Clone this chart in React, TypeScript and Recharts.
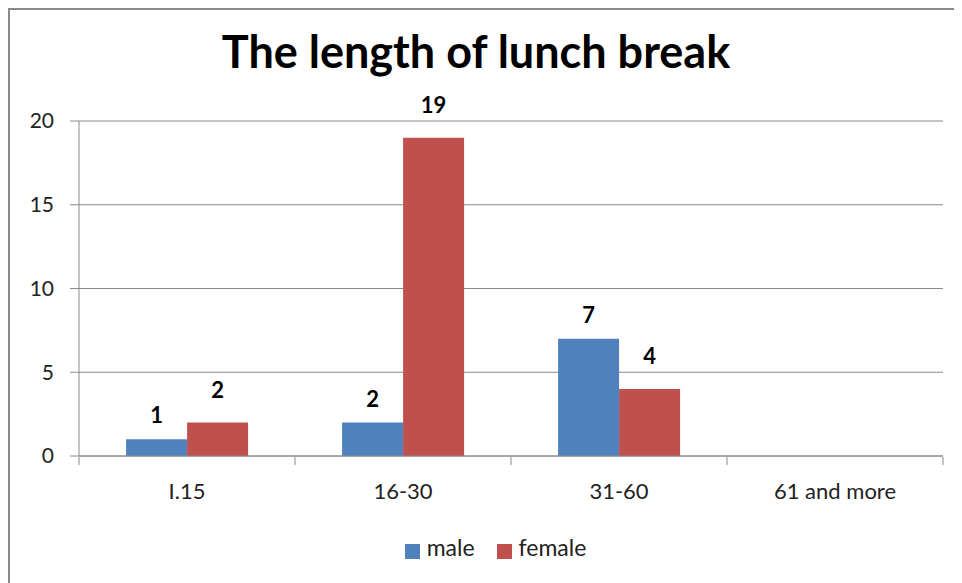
import { BarChart, Bar, XAxis, YAxis, CartesianGrid, Legend, LabelList } from 'recharts';

const categories = ['I.15', '16-30', '31-60', '61 and more'];
const maleValues = [1, 2, 7, null];
const femaleValues = [2, 19, 4, null];
const yTicks = [0, 5, 10, 15, 20];
const boundaryTicks = [0, 1, 2, 3, 4];

const chartData = categories.map((name, i) => ({
  name,
  pos: i + 0.5,
  male: maleValues[i],
  female: femaleValues[i],
}));

const font = 'Lato, "Open Sans", sans-serif';

const NoLabel = () => <g />;

export default function App() {
  return (
    <div
      style={{
        position: 'relative',
        width: 954,
        height: 575,
        borderTop: '2px solid #8a8a8a',
        borderLeft: '2px solid #8a8a8a',
        fontFamily: font,
        background: '#fff',
      }}
    >
      <div
        style={{
          position: 'absolute',
          top: 13,
          left: 0,
          width: 932,
          textAlign: 'center',
          fontSize: 45,
          fontWeight: 'bold',
          color: '#000',
          lineHeight: '56px',
        }}
      >
        The length of lunch break
      </div>
      <BarChart
        width={952}
        height={573}
        data={chartData}
        margin={{ top: 111, right: 19, bottom: 87, left: 0 }}
        barCategoryGap="21.8%"
        barGap={0}
      >
        <CartesianGrid vertical={false} stroke="#8a8a8a" />
        <XAxis
          dataKey="name"
          tickLine={false}
          stroke="#8a8a8a"
          height={1}
          tickMargin={21}
          tick={{ fill: '#222', fontSize: 22, fontFamily: font }}
        />
        <XAxis
          xAxisId="b"
          dataKey="pos"
          type="number"
          domain={[0, 4]}
          ticks={boundaryTicks}
          tick={NoLabel}
          tickSize={8}
          axisLine={false}
          stroke="#8a8a8a"
          height={1}
          interval={0}
        />
        <YAxis
          domain={[0, 20]}
          ticks={yTicks}
          width={69}
          tickSize={9}
          tickMargin={16}
          stroke="#8a8a8a"
          tick={{ fill: '#222', fontSize: 21, fontFamily: font }}
        />
        <Legend
          verticalAlign="bottom"
          height={38}
          iconType="square"
          iconSize={15}
          itemSorter={null}
          wrapperStyle={{ bottom: 12, left: 30 }}
          formatter={(value: string) => (
            <span style={{ color: '#222', fontSize: 23, fontFamily: font, marginLeft: 3, marginRight: 12 }}>
              {value}
            </span>
          )}
        />
        <Bar dataKey="male" name="male" fill="#4F81BD" isAnimationActive={false}>
          <LabelList
            dataKey="male"
            position="top"
            offset={16}
            style={{ fill: '#000', fontSize: 22, fontWeight: 'bold', fontFamily: font }}
          />
        </Bar>
        <Bar dataKey="female" name="female" fill="#C0504D" isAnimationActive={false}>
          <LabelList
            dataKey="female"
            position="top"
            offset={25}
            style={{ fill: '#000', fontSize: 22, fontWeight: 'bold', fontFamily: font }}
          />
        </Bar>
      </BarChart>
    </div>
  );
}
